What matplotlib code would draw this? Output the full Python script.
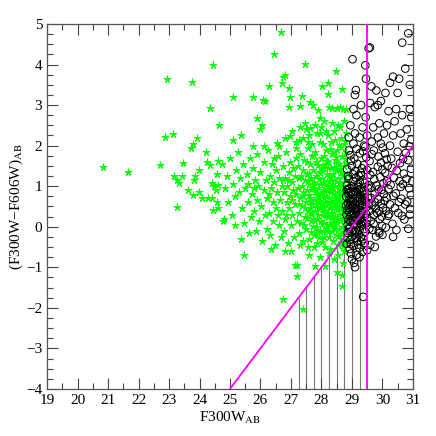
import matplotlib
matplotlib.use("Agg")
import matplotlib.pyplot as plt
from matplotlib.ticker import MultipleLocator

plt.rcParams['font.family'] = ['Liberation Serif', 'DejaVu Serif']
plt.rcParams['mathtext.fontset'] = 'stix'

# green stars: sparse outliers to the left / top / bottom
green_sparse = [
    (20.85, 1.48), (21.65, 1.34), (22.72, 1.51), (22.94, 3.65), (23.75, 3.58), (24.45, 3.99),
    (24.34, 2.93), (24.63, 2.50), (22.86, 2.22), (23.14, 2.28), (23.72, 1.95), (23.78, 2.04),
    (23.93, 2.18), (24.2, 1.85), (23.45, 1.57), (24.24, 1.59), (24.36, 1.53), (24.6, 1.62),
    (23.98, 1.40), (23.16, 1.26), (23.44, 1.26), (23.25, 1.16), (23.33, 1.08), (23.85, 1.24),
    (23.83, 1.14), (24.56, 1.31), (23.61, 0.91), (23.97, 0.85), (23.8, 0.77), (24.09, 0.71),
    (24.29, 0.71), (24.4, 0.72), (24.42, 1.08), (24.46, 1.0), (24.54, 0.9), (24.62, 1.02),
    (23.25, 0.49), (24.45, 0.42), (24.6, 0.47), (24.56, 0.6), (24.78, 0.13), (25.46, -0.69),
    (26.66, 4.79), (26.44, 4.25), (27.47, 4.01), (28.48, 3.84), (26.74, 3.7), (26.82, 3.75),
    (26.7, 3.54), (26.29, 3.48), (26.94, 3.42), (28.03, 3.47), (28.2, 3.55), (28.68, 3.39),
    (25.1, 3.19), (25.76, 3.19), (26.09, 3.12), (26.16, 3.1), (26.97, 3.21), (27.35, 3.23),
    (28.22, 3.27), (28.25, 2.96), (28.35, 2.92), (28.5, 2.93), (28.6, 2.95), (28.7, 2.9),
    (26.93, 2.96), (27.3, 2.98), (27.62, 3.07), (27.73, 3.0), (27.9, 2.88), (27.95, 2.67),
    (28.79, 2.9), (25.87, 2.68), (26.04, 2.51), (26.0, 2.4), (27.3, 2.47), (27.5, 2.4),
    (27.63, 2.43), (26.97, 2.24), (25.09, 2.14), (25.36, 2.26), (25.76, 1.98), (26.11, 2.0),
    (26.55, 2.06), (26.62, 2.0), (26.82, 2.2), (27.4, 2.2), (27.6, 2.25), (27.85, 2.3),
    (28.0, 2.45), (28.2, 2.25), (28.4, 2.35), (28.55, 2.5), (28.75, 2.6), (28.65, 2.2),
    (28.1, 2.6), (27.15, 2.1), (27.95, 2.1), (28.3, 2.1), (28.8, 2.3), (27.7, 2.05),
    (27.05, 2.35), (27.25, 2.15), (27.45, 2.55), (27.8, 2.5), (28.05, 2.05), (28.15, 2.35),
    (28.45, 2.15), (28.6, 2.45), (28.75, 2.05), (28.35, 2.55), (27.55, 2.1), (27.95, 2.3),
    (26.73, -1.78), (27.4, -2.04), (27.19, -1.21), (27.13, -0.94), (27.2, -0.94), (28.66, -1.45),
    (28.52, -1.12), (28.66, -1.2), (28.7, -0.9), (28.11, -0.98), (27.79, -0.98), (28.4, -0.8),
    (28.55, -0.7), (27.95, -0.75), (27.6, -0.7), (28.25, -0.65), (28.75, -0.6),
]

# green stars: main cloud
green_cloud = [
    (24.75, 1.55), (24.85, 0.95), (24.9, 1.25), (24.95, 0.6), (25.0, 1.7), (25.05, 0.3),
    (25.1, 1.05), (25.15, 0.75), (25.2, 1.4), (24.8, 0.2), (25.18, 0.05),
    (25.25, 1.85), (25.3, 0.85), (25.32, 1.2), (25.38, 0.45), (25.42, 1.55), (25.45, 0.1),
    (25.5, 0.95), (25.55, 1.3), (25.58, 0.6), (25.62, -0.15), (25.65, 1.7), (25.68, 0.25),
    (25.35, -0.3), (25.6, 1.05),
    (25.72, 0.8), (25.75, 1.45), (25.78, 0.4), (25.82, 1.15), (25.85, -0.1), (25.88, 0.65),
    (25.9, 1.8), (25.93, 1.0), (25.96, 0.15), (26.0, 1.35), (26.03, 0.5), (26.06, -0.35),
    (26.1, 0.9), (26.12, 1.6), (26.15, 0.3), (26.18, 1.15), (26.2, -0.05), (25.8, 0.95),
    (26.22, 0.7), (26.25, 1.9), (26.27, 0.35), (26.3, 1.25), (26.32, -0.2), (26.35, 0.95),
    (26.38, 1.55), (26.4, 0.15), (26.42, 0.6), (26.45, 1.1), (26.48, -0.45), (26.5, 1.4),
    (26.52, 0.45), (26.55, 0.85), (26.57, 1.75), (26.6, 0.05), (26.62, 1.2), (26.65, 0.65),
    (26.68, -0.25), (26.7, 1.0), (26.28, 0.8), (26.44, 1.7), (26.58, 0.3), (26.36, -0.55),
    (26.72, 0.4), (26.74, 1.5), (26.76, 0.85), (26.78, -0.1), (26.8, 1.2), (26.82, 0.2),
    (26.84, 1.85), (26.86, 0.6), (26.88, 1.0), (26.9, -0.4), (26.92, 1.35), (26.94, 0.45),
    (26.96, 0.75), (26.98, 1.6), (27.0, 0.05), (27.02, 1.1), (27.04, 0.3), (27.06, 0.9),
    (27.08, 1.45), (27.1, -0.25), (27.12, 0.55), (27.14, 1.25), (27.16, 0.8), (27.18, 1.95),
    (27.2, 0.15), (26.75, 1.15), (26.85, 0.3), (26.95, 1.15), (27.05, 0.65), (27.15, 1.7),
    (26.8, -0.6), (27.0, -0.6),
    (27.22, 0.95), (27.24, 1.5), (27.25, 0.35), (27.27, -0.15), (27.28, 1.2), (27.3, 0.7),
    (27.31, 1.8), (27.33, 0.1), (27.35, 1.0), (27.36, 0.5), (27.38, 1.4), (27.4, -0.35),
    (27.41, 0.85), (27.43, 1.65), (27.45, 0.25), (27.46, 1.15), (27.48, 0.6), (27.5, -0.05),
    (27.51, 1.3), (27.53, 0.9), (27.55, 1.95), (27.56, 0.4), (27.58, 1.05), (27.6, -0.3),
    (27.61, 0.7), (27.63, 1.55), (27.65, 0.15), (27.66, 1.2), (27.68, 0.55), (27.7, 0.95),
    (27.26, 0.55), (27.34, 1.25), (27.44, 0.05), (27.52, 1.6), (27.62, 0.35), (27.69, 1.75),
    (27.39, 0.75), (27.57, -0.5), (27.29, -0.45), (27.47, 0.45),
    (27.71, 0.2), (27.72, 1.4), (27.74, 0.65), (27.75, -0.2), (27.76, 1.1), (27.78, 0.4),
    (27.79, 1.85), (27.8, 0.85), (27.82, 0.0), (27.83, 1.25), (27.84, 0.55), (27.86, 1.6),
    (27.87, -0.4), (27.88, 0.95), (27.9, 0.3), (27.91, 1.35), (27.92, 0.7), (27.94, -0.1),
    (27.95, 1.05), (27.96, 0.45), (27.98, 1.7), (27.99, 0.15), (28.0, 0.8), (28.02, 1.2),
    (28.03, -0.3), (28.04, 0.5), (28.06, 1.5), (28.07, 0.9), (28.08, 0.1), (28.1, 1.1),
    (28.11, 0.6), (28.12, -0.5), (28.14, 1.9), (28.15, 0.35), (28.16, 0.75), (28.18, 1.3),
    (28.19, -0.05), (28.2, 0.55), (27.73, 0.95), (27.81, 1.6), (27.85, 0.2), (27.89, -0.15),
    (27.93, 0.6), (27.97, 1.45), (28.01, 0.3), (28.05, -0.1), (28.09, 1.75), (28.13, 0.85),
    (28.17, 0.05), (27.77, -0.5),
    (28.21, 1.0), (28.22, 0.25), (28.23, 1.6), (28.24, -0.25), (28.25, 0.7), (28.26, 1.25),
    (28.27, 0.45), (28.28, -0.55), (28.29, 0.9), (28.3, 1.45), (28.31, 0.1), (28.32, 0.6),
    (28.33, 1.8), (28.34, -0.1), (28.35, 1.05), (28.36, 0.35), (28.37, 0.8), (28.38, 1.3),
    (28.39, -0.35), (28.4, 0.55), (28.41, 1.15), (28.42, 0.0), (28.43, 1.65), (28.44, 0.7),
    (28.45, 0.25), (28.46, 1.0), (28.47, -0.2), (28.48, 0.45), (28.49, 1.4), (28.5, 0.85),
    (28.51, 0.1), (28.52, 1.9), (28.53, 0.6), (28.54, -0.45), (28.55, 1.2), (28.56, 0.3),
    (28.57, 0.95), (28.58, 1.55), (28.59, -0.05), (28.6, 0.65), (28.61, 1.1), (28.62, 0.2),
    (28.63, -0.3), (28.64, 0.8), (28.65, 1.35), (28.66, 0.45), (28.67, 1.75), (28.68, 0.0),
    (28.69, 1.0), (28.7, 0.55), (28.71, -0.15), (28.72, 1.25), (28.73, 0.3), (28.74, 0.75),
    (28.75, 1.5), (28.76, -0.4), (28.77, 0.9), (28.78, 0.15), (28.79, 1.15), (28.8, 0.5),
    (28.81, 1.85), (28.82, -0.1), (28.83, 0.7), (28.84, 1.3), (28.85, 0.35),
]

# green stars: densest part of the cloud, next to the faint sample
green_core = [
    (27.52, 0.22), (27.67, -0.12), (27.81, 0.48), (27.95, 0.83), (28.08, -0.25), (28.22, 0.62),
    (28.37, 0.12), (28.51, 0.41), (28.66, -0.18), (28.79, 0.27), (27.58, 0.78), (27.73, 0.02),
    (27.88, 0.63), (28.02, -0.38), (28.17, 0.29), (28.31, 0.87), (28.46, -0.06), (28.6, 0.52),
    (28.74, 0.98), (28.84, -0.31), (27.61, 0.46), (27.76, 1.02), (27.91, -0.26), (28.05, 0.37),
    (28.2, 0.94), (28.34, 0.22), (28.49, 0.68), (28.63, -0.42), (28.77, 0.6), (27.55, 1.12),
    (27.7, 0.33), (27.84, -0.08), (27.99, 0.57), (28.13, 1.04), (28.28, 0.04), (28.42, 0.48),
    (28.57, 1.08), (28.71, 0.16), (28.82, 0.83), (27.64, 0.61), (27.79, 0.13), (27.93, 1.17),
    (28.07, 0.72), (28.21, -0.12), (28.36, 0.58), (28.5, 0.17), (28.65, 0.76), (28.8, -0.02),
    (27.87, 0.77), (28.25, 1.12), (28.11, 0.42), (28.39, 0.98), (28.55, -0.22), (28.69, 0.38),
    (28.83, 0.12), (28.02, 0.07), (28.3, 0.33), (28.58, 0.82), (28.72, -0.48), (28.45, 0.62),
    (28.04, 1.38), (28.18, 1.62), (28.32, 1.22), (28.47, 1.73), (28.61, 1.42), (28.76, 1.66),
    (28.27, 1.92), (28.41, 1.47), (28.56, 2.02), (28.7, 1.27), (28.12, 1.55), (28.38, 1.84),
    (28.64, 1.97), (28.81, 1.56), (27.88, 1.52), (27.74, 1.78), (27.6, 1.32), (28.5, 1.58),
    (28.22, 1.44), (28.78, 2.12),
]

# black open circles (faint objects)
black_upper = [
    (30.85, 4.77), (30.65, 4.54), (29.59, 4.42), (29.55, 4.40), (29.02, 4.13), (29.44, 3.98),
    (29.46, 3.65), (29.13, 3.37), (29.64, 3.46), (29.8, 3.36), (29.1, 3.25), (30.35, 3.7),
    (30.25, 3.55), (30.55, 3.65), (30.75, 3.9), (30.9, 3.5), (30.5, 3.3), (30.1, 3.3),
    (29.95, 3.1), (29.85, 3.0), (29.75, 2.95), (29.6, 3.05), (29.3, 3.0), (29.05, 2.9),
    (29.15, 2.75), (29.45, 2.7), (30.2, 2.85), (30.45, 2.9), (30.65, 2.75), (30.9, 2.9),
    (30.95, 2.7), (30.4, 2.6), (30.15, 2.5), (29.9, 2.55), (29.7, 2.45), (29.35, 2.45),
    (28.95, 2.5), (29.1, 2.3), (29.25, 2.2), (29.5, 2.25), (29.85, 2.2), (30.05, 2.3),
    (30.35, 2.25), (30.6, 2.3), (30.8, 2.4), (30.95, 2.15), (30.7, 2.05), (30.25, 2.0),
    (29.95, 2.05), (29.65, 2.1), (29.4, 2.0), (29.05, 2.05), (28.9, 2.2),
]

black_core = [
    (28.83, -0.42), (28.97, 0.61), (29.12, -0.08), (29.28, 0.93), (29.41, 0.27), (29.05, 1.12),
    (28.88, 0.18), (29.19, 0.44), (29.36, -0.31), (29.52, 0.72), (28.92, 0.95), (29.08, 0.33),
    (29.24, -0.52), (29.47, 0.08), (28.81, 0.74), (29.15, 0.86), (29.33, 0.52), (29.01, -0.25),
    (29.58, 0.39), (28.95, 0.12), (29.21, 1.05), (29.39, 0.66), (28.86, -0.15), (29.1, 0.57),
    (29.27, 0.21), (29.44, -0.12), (29.03, 0.79), (28.9, 0.46), (29.17, -0.36), (29.55, 1.02),
    (29.32, 0.03), (28.99, 0.31), (29.13, 1.21), (29.48, 0.49), (28.84, 1.03), (29.26, 0.68),
    (29.06, -0.47), (29.4, 0.88), (28.93, -0.02), (29.2, 0.14), (29.57, -0.05), (29.11, 0.71),
    (28.87, 0.58), (29.35, 1.14), (29.02, 0.38), (29.23, -0.19), (29.46, 0.61), (28.96, 0.84),
    (29.14, 0.05), (29.31, 0.41), (28.82, 0.29), (29.07, 0.97), (29.29, -0.27), (29.5, 0.22),
    (29.18, 0.36), (28.94, -0.33), (29.37, 0.79), (29.04, 0.16), (29.25, 0.55), (28.89, 1.18),
    (29.42, -0.4), (29.09, -0.13), (29.22, 0.91), (28.98, 0.7), (29.34, 0.12), (29.53, 0.95),
    (28.85, -0.28), (29.16, 0.63), (29.3, 1.27), (29.0, 0.48), (29.45, 0.33), (29.12, 0.26),
    (28.91, 0.37), (29.38, -0.06), (29.27, 0.78), (29.05, 0.63), (29.2, -0.44), (29.56, 0.58),
    (28.83, 0.9), (29.43, 1.08),
    (28.86, 0.05), (28.99, -0.12), (29.14, 0.47), (29.29, 0.07), (29.43, 0.52), (28.92, 0.68),
    (29.07, 0.22), (29.22, 0.72), (29.37, 0.38), (28.81, 0.52), (28.95, 0.27), (29.1, 0.88),
    (29.25, -0.08), (29.4, 0.14), (29.03, 0.54), (28.88, 0.82), (29.17, 0.17), (29.32, 0.64),
    (28.97, -0.43), (29.12, -0.27), (29.28, 0.34), (28.84, 0.41), (29.01, 1.0), (29.19, 0.98),
    (29.35, 0.86), (28.9, -0.05), (29.06, 0.06), (29.24, 0.29), (29.41, 0.73), (28.94, 0.53),
    (29.15, -0.17), (29.31, -0.37), (29.09, 0.43), (28.87, 0.93), (29.26, 1.1), (29.04, 0.85),
    (29.62, 0.15), (29.75, 0.82), (29.88, -0.11), (30.02, 0.47), (30.15, 1.12), (29.69, 1.35),
    (29.83, 0.34), (29.97, 0.91), (30.11, -0.02), (29.66, 0.53), (29.79, -0.24), (29.93, 1.22),
    (30.07, 0.64), (30.19, 0.27), (29.71, 0.07), (29.86, 0.68), (30.0, 1.41), (29.64, 0.96),
    (29.78, 0.45), (29.91, 0.19), (30.05, 0.81), (30.17, 1.5), (29.73, 1.17), (29.85, 1.48),
    (29.99, 0.02), (30.12, 0.39), (29.6, 1.28), (29.81, 1.02), (29.95, 0.57), (30.09, 1.33),
    (29.68, -0.08), (29.9, 0.38), (30.14, 0.72), (29.76, 0.6), (30.03, 1.07), (29.63, 0.71),
    (29.87, 0.92), (29.72, 0.29), (30.2, 0.93), (29.98, 0.25),
]

black_right = [
    (30.25, 0.55), (30.38, 1.21), (30.52, 0.34), (30.67, 1.05), (30.81, 0.62), (30.94, 1.43),
    (30.29, 1.68), (30.44, 0.82), (30.58, 1.57), (30.72, 0.18), (30.88, 0.95), (30.33, 0.07),
    (30.47, 1.38), (30.62, 0.69), (30.77, 1.82), (30.91, 0.44), (30.27, 1.03), (30.41, 0.46),
    (30.56, 1.12), (30.7, 1.31), (30.85, 1.64), (30.36, 0.76), (30.5, 1.85), (30.64, 0.27),
    (30.79, 1.18), (30.93, 0.78), (30.31, 1.45), (30.46, -0.08), (30.6, 0.98), (30.75, 0.55),
    (30.89, 1.98), (30.22, 0.31), (30.98, 1.12), (30.54, 0.61), (30.68, 1.67),
    (28.84, 1.42), (28.97, 1.63), (29.11, 1.37), (29.26, 1.81), (29.39, 1.52), (28.9, 1.88),
    (29.04, 1.29), (29.18, 1.55), (29.33, 1.44), (29.47, 1.71), (28.87, 1.25), (29.0, 1.5),
    (29.15, 1.92), (29.29, 1.33), (29.44, 1.97), (28.95, 1.76), (29.08, 1.68), (29.22, 1.26),
    (29.36, 1.86), (29.5, 1.4), (29.58, 1.62), (29.72, 1.88), (29.87, 1.73), (30.01, 1.95),
    (30.14, 1.66), (29.65, 1.79), (29.95, 1.58), (30.08, 1.81),
    (29.37, -1.73), (29.07, -0.89), (29.1, -1.0), (28.93, -0.55), (28.97, -0.66), (30.0, -0.2),
    (29.9, -0.16), (29.35, -0.62), (29.15, -0.7), (29.0, -0.8), (29.6, -0.45), (29.75, -0.5),
    (30.35, -0.25), (29.5, -0.58), (29.25, -0.75), (30.9, 0.3), (30.85, -0.05),
]

# selection limits
mag_limit = 29.5
diag_x = [25.0, 31.0]
diag_y = [-4.0, 2.0]
hatch_x = [27.25, 27.5, 27.75, 28.0, 28.25, 28.5, 28.75, 29.0, 29.25]

fig = plt.figure(figsize=(4.36, 4.36), dpi=100)
ax = fig.add_axes([0.108, 0.108, 0.839, 0.837])

# hatch region below the colour cut
ax.vlines(hatch_x, -4, [x - 29.0 for x in hatch_x], color='#777777', lw=0.8, zorder=1)

gpts = green_sparse + green_cloud + green_core
ax.scatter([p[0] for p in gpts], [p[1] for p in gpts], marker=(5, 2, 0), s=24,
           color='#00ff00', linewidths=0.8, zorder=2)

bpts = black_upper + black_core + black_right
ax.scatter([p[0] for p in bpts], [p[1] for p in bpts], marker='o', s=30,
           facecolors='none', edgecolors='black', linewidths=0.7, zorder=3)

ax.axvline(mag_limit, color='#ff00ff', lw=1.3, zorder=4)
ax.plot(diag_x, diag_y, color='#ff00ff', lw=1.3, zorder=4)

ax.set_xlim(19, 31)
ax.set_ylim(-4, 5)
ax.xaxis.set_major_locator(MultipleLocator(1))
ax.xaxis.set_minor_locator(MultipleLocator(0.5))
ax.yaxis.set_major_locator(MultipleLocator(1))
ax.yaxis.set_minor_locator(MultipleLocator(0.25))
ax.tick_params(which='both', direction='in', top=True, right=True, colors='#444444',
               labelcolor='black', labelsize=11)
ax.tick_params(which='major', length=8, width=0.8)
ax.tick_params(which='minor', length=4, width=0.8)
for sp in ax.spines.values():
    sp.set_color('#555555')
    sp.set_linewidth(0.9)

ax.set_xlabel(r'F300W$_{\rm AB}$', fontsize=11, labelpad=2)
ax.set_ylabel('(F300W\u2212F606W)$_{\\rm AB}$', fontsize=11, labelpad=1)

fig.savefig('out.png', dpi=100)
